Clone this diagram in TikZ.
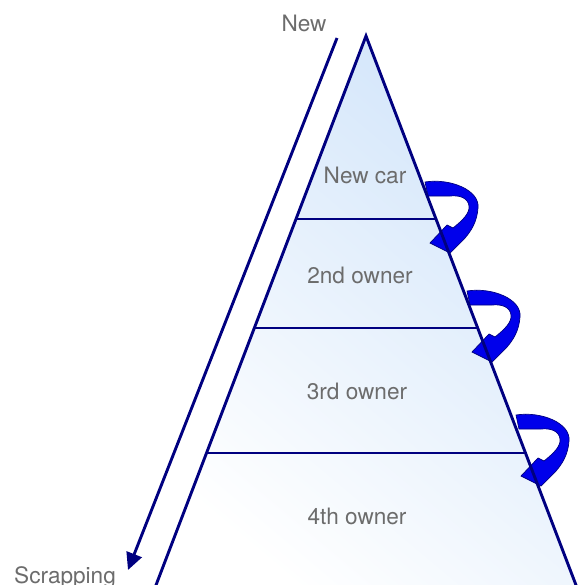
\documentclass[tikz,border=0pt]{standalone}
\usepackage{fontspec}
\setmainfont{TeX Gyre Heros}
\usetikzlibrary{arrows.meta,positioning,calc}
\definecolor{edgeNavy}{RGB}{0,0,128}
\definecolor{curlBlue}{RGB}{0,0,235}
\definecolor{labelGray}{RGB}{108,108,108}
\definecolor{pyrBlue}{RGB}{210,229,250}

\tikzset{
  stage/.style={font=\fontsize{22.6pt}{26pt}\selectfont, text=labelGray, inner sep=0pt, anchor=base},
  edge/.style={draw=edgeNavy, line width=2.9pt},
  curl/.pic={
    \filldraw[fill=curlBlue, draw=edgeNavy, line width=0.7pt]
      (0,0) .. controls (25,-4) and (55,8) .. (53,26)
      .. controls (52,40) and (46,49) .. (40,56)
      -- (25,71) -- (5,61) -- (22,43) -- (28,46)
      .. controls (38,38) and (45,31) .. (44,24)
      .. controls (43,16) and (35,13) .. (25,14)
      -- (3,14) -- cycle;
  }
}

\begin{document}
\begin{tikzpicture}[x=1pt, y=-1pt]
  \useasboundingbox (0,0) rectangle (581,585);

  % pyramid outline points
  \coordinate (apex) at (366,36);
  \coordinate (baseL) at (150.3,600);
  \coordinate (baseR) at (581.7,600);
  \coordinate (cutAL) at ($(apex)!0.3245!(baseL)$);
  \coordinate (cutAR) at ($(apex)!0.3245!(baseR)$);
  \coordinate (cutBL) at ($(apex)!0.5177!(baseL)$);
  \coordinate (cutBR) at ($(apex)!0.5177!(baseR)$);
  \coordinate (cutCL) at ($(apex)!0.7394!(baseL)$);
  \coordinate (cutCR) at ($(apex)!0.7394!(baseR)$);

  \shade[top color=pyrBlue, bottom color=white, shading angle=-40]
    (apex) -- (baseR) -- (baseL) -- cycle;

  % hand-over arrows
  \pic at (425,182) {curl};
  \pic at (467,291) {curl};
  \pic at (516,415) {curl};

  \draw[edge, line join=miter] (baseL) -- (apex) -- (baseR);
  \draw[edge] (cutAL) -- (cutAR);
  \draw[edge] (cutBL) -- (cutBR);
  \draw[edge] (cutCL) -- (cutCR);

  % life line
  \node[stage] (newLbl) at (304,32) {New};
  \node[stage, anchor=base west] (scrapLbl) at (14,583) {Scrapping};
  \coordinate (lifeTop) at (337,38);
  \coordinate (lifeEnd) at (128,570);
  \draw[edge, -{Triangle[length=17pt, width=16pt]}] (lifeTop) -- (lifeEnd);

  \node[stage] (newCar) at (365,183) {New car};
  \node[stage] (second) at (360,283) {2nd owner};
  \node[stage] (third) at (357,399) {3rd owner};
  \node[stage] (fourth) at (357,524) {4th owner};
\end{tikzpicture}
\end{document}
